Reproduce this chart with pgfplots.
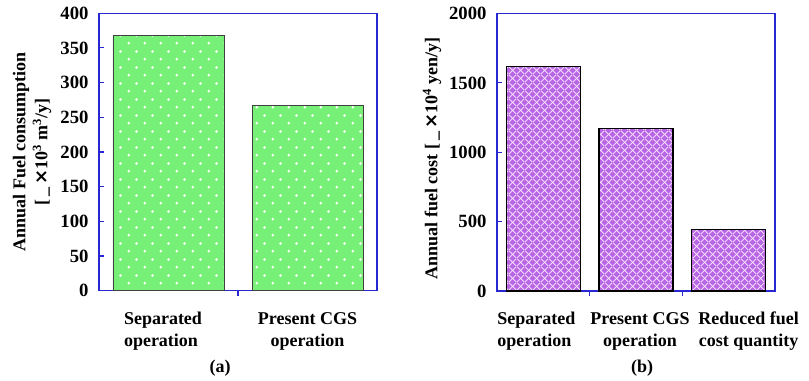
\documentclass[border=0pt]{standalone}
\usepackage{fontspec}
\setmainfont{Liberation Serif}
\newfontfamily\dejavu{DejaVu Sans}
\usepackage{pgfplots}
\usepackage{pgfplotstable}
\pgfplotsset{compat=1.18}
\usetikzlibrary{patterns,patterns.meta}
\definecolor{axblue}{RGB}{40,40,210}
\definecolor{gfill}{RGB}{118,240,118}
\definecolor{pfill}{RGB}{185,100,228}
\definecolor{plite}{RGB}{242,220,252}
\tikzdeclarepattern{
  name=gdots, type=uncolored,
  bottom left={(0bp,0bp)}, top right={(15.6bp,15.6bp)},
  tile size={(15.6bp,15.6bp)},
  code={\fill (3.9bp,3.9bp) circle (1.5bp); \fill (11.7bp,11.7bp) circle (1.5bp);}
}
\tikzdeclarepattern{
  name=pdiam, type=uncolored,
  bottom left={(0bp,0bp)}, top right={(7.6bp,7.6bp)},
  tile size={(7.6bp,7.6bp)}, line width=1.4bp,
  code={\draw (0bp,0bp)--(7.6bp,7.6bp); \draw (0bp,7.6bp)--(7.6bp,0bp);}
}
\pgfplotstableread{
x y
0.5 368
1.5 267
}\dataA
\pgfplotstableread{
x y
0.5 1617
1.5 1172
2.5 445
}\dataB
\newcommand{\tf}{\fontsize{18bp}{22bp}\selectfont\bfseries}
\newcommand{\nf}{\fontsize{18.7bp}{22bp}\selectfont\bfseries}
\begin{document}
\begin{tikzpicture}[font=\tf]
\path[use as bounding box] (0,0) rectangle (809bp,-381bp);
\pgfplotsset{myax/.style={
  scale only axis, width=278bp, height=277.5bp,
  axis line style={axblue, line width=1.2bp},
  tick style={axblue, line width=1.2bp},
  major tick length=5bp, minor tick length=5bp,
  tick pos=left, tick align=inside,
  ymin=0,
  major x tick style={draw=none},
  /pgf/number format/assume math mode=true,
  /pgf/number format/1000 sep={},
  yticklabel style={font=\nf, xshift=-7bp},
  xticklabel style={align=center, font=\tf, yshift=-10bp},
  label style={font=\tf},
  ybar, bar shift=0pt,
}}
% (a)
\begin{axis}[myax, at={(99bp,-290.7bp)}, anchor=south west,
  xmin=0, xmax=2, ymax=400, ytick={0,50,...,400},
  xtick={0.5,1.5}, minor xtick={1},
  xticklabels={{\hspace*{-11bp}\begin{tabular}{@{}l@{}}Separated\\operation\end{tabular}},
               {\begin{tabular}{@{}c@{}}Present CGS\\operation\end{tabular}}},
  bar width=111bp,
  ylabel={Annual Fuel consumption\\{}[\,\_\,{\dejavu\bfseries ×}10\textsuperscript{3} m\textsuperscript{3}/y]},
  ylabel style={align=center, at={(axis description cs:-0.241,0.5)}, anchor=center},
]
\addplot[fill=gfill, draw=black!75, line width=0.8bp,
  postaction={pattern=gdots, pattern color=white}] table[x=x,y=y] {\dataA};
\end{axis}
% (b)
\begin{axis}[myax, at={(497bp,-291bp)}, anchor=south west,
  xmin=0, xmax=3, ymax=2000, ytick={0,500,...,2000},
  xtick={0.5,1.5,2.5}, minor xtick={1,2},
  xticklabels={{\hspace*{-14bp}\begin{tabular}{@{}l@{}}Separated\\operation\end{tabular}},
               {\hspace*{8bp}\begin{tabular}{@{}c@{}}Present CGS\\operation\end{tabular}},
               {\hspace*{40bp}\begin{tabular}{@{}c@{}}Reduced fuel\\cost quantity\end{tabular}}},
  bar width=74bp,
  ylabel={Annual fuel cost [\,\_\,{\dejavu\bfseries ×}10\textsuperscript{4} yen/y]},
  ylabel style={at={(axis description cs:-0.234,0.479)}, anchor=center},
]
\addplot[fill=pfill, draw=black, line width=1.4bp,
  postaction={pattern=pdiam, pattern color=plite}] table[x=x,y=y] {\dataB};
\end{axis}
\node at (220bp,-368bp) {(a)};
\node at (642bp,-368bp) {(b)};
\end{tikzpicture}
\end{document}
